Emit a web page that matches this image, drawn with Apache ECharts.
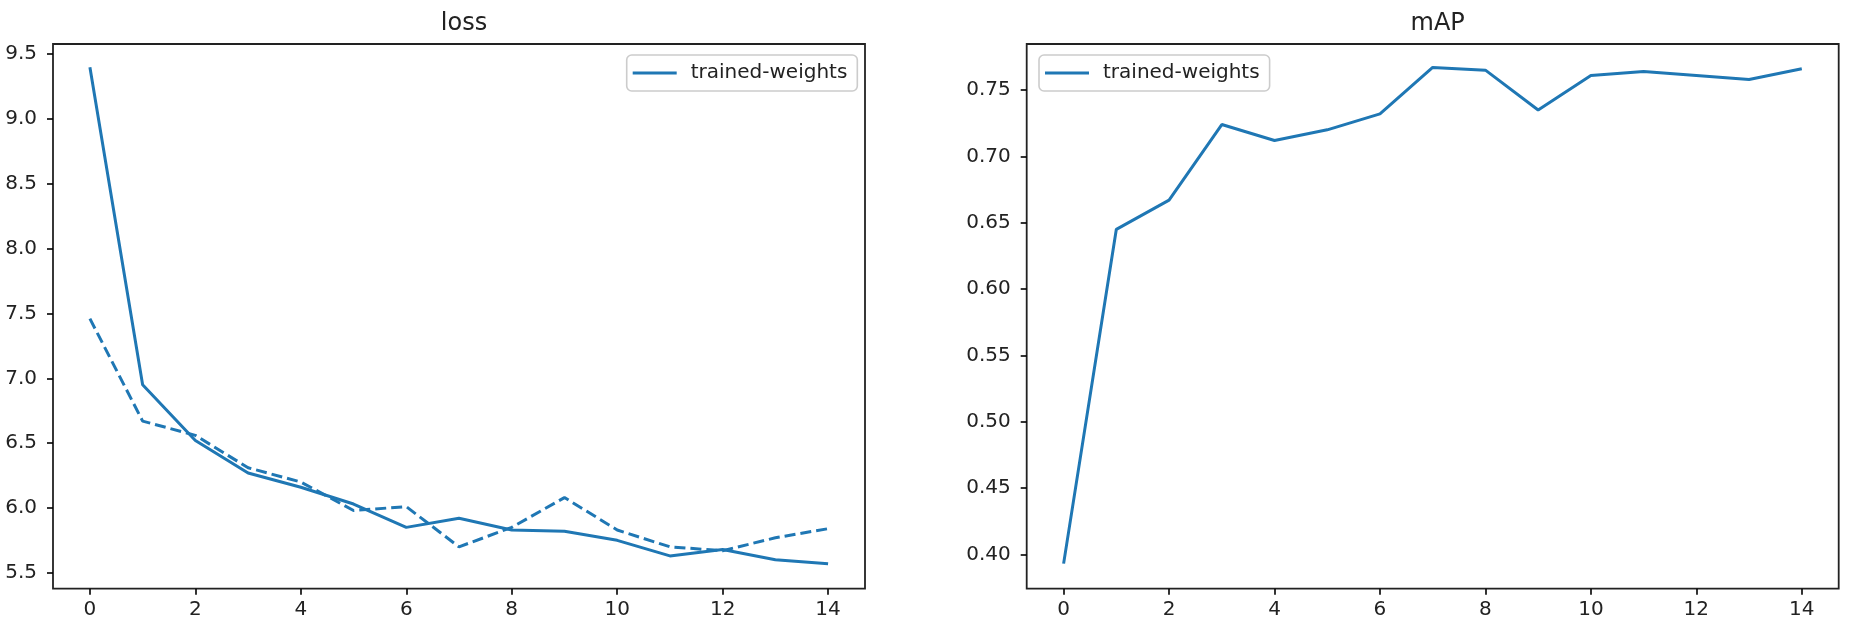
<!DOCTYPE html>
<html>
<head>
<meta charset="utf-8">
<script src="https://cdn.jsdelivr.net/npm/echarts@6/dist/echarts.min.js"></script>
<style>
html,body{margin:0;padding:0;background:#fff;}
#chart{width:1856px;height:636px;}
</style>
</head>
<body>
<div id="chart"></div>
<script>
const epochs = [0,1,2,3,4,5,6,7,8,9,10,11,12,13,14];
const lossTrain = [9.40,6.95,6.52,6.27,6.16,6.03,5.85,5.92,5.83,5.82,5.75,5.63,5.68,5.60,5.57];
const lossVal   = [7.46,6.67,6.56,6.31,6.20,5.98,6.01,5.70,5.85,6.08,5.83,5.70,5.67,5.77,5.84];
const mapTrain  = [0.393,0.645,0.667,0.724,0.712,0.720,0.732,0.767,0.765,0.735,0.761,0.764,0.761,0.758,0.766];
const xTicks    = [0,2,4,6,8,10,12,14];
const lossTicks = [5.5,6.0,6.5,7.0,7.5,8.0,8.5,9.0,9.5];
const mapTicks  = [0.40,0.45,0.50,0.55,0.60,0.65,0.70,0.75];
const seriesName = 'trained-weights';

const C = '#1f77b4';
const FONT = 'DejaVu Sans';
const pair = (ys) => epochs.map((x, i) => [x, ys[i]]);

const chart = echarts.init(document.getElementById('chart'), null, {renderer: 'canvas'});

function xAxisDef(gi) {
  return {
    type: 'value', gridIndex: gi, min: -0.7, max: 14.7,
    axisLine: {show: false, onZero: false},
    splitLine: {show: false},
    axisTick: {show: true, length: 6, customValues: xTicks, lineStyle: {color: '#000', width: 1.6}},
    axisLabel: {customValues: xTicks, margin: 11, color: '#222', fontFamily: FONT, fontSize: 20,
      formatter: v => String(v)}
  };
}
function yAxisDef(gi, min, max, ticks, dec) {
  return {
    type: 'value', gridIndex: gi, min: min, max: max,
    axisLine: {show: false, onZero: false},
    splitLine: {show: false},
    axisTick: {show: true, length: 6, customValues: ticks, lineStyle: {color: '#000', width: 1.6}},
    axisLabel: {customValues: ticks, margin: 16, color: '#222', fontFamily: FONT, fontSize: 20,
      formatter: v => Number(v).toFixed(dec)}
  };
}
function legendDef(left, top) {
  return {
    data: [{name: seriesName, icon: 'rect'}], left: left, top: top, orient: 'horizontal',
    padding: [8, 10, 8, 6], itemWidth: 44, itemHeight: 3,
    itemStyle: {color: C, borderWidth: 0},
    backgroundColor: 'rgba(255,255,255,0.8)', borderColor: '#cccccc', borderWidth: 1.6, borderRadius: 5,
    textStyle: {fontFamily: FONT, fontSize: 20, color: '#222', padding: [0, 0, 0, 9], lineHeight: 20},
    selectedMode: false
  };
}

const option = {
  animation: false,
  backgroundColor: '#fff',
  title: [
    {text: 'loss', left: 459, top: 7, textAlign: 'center',
     textStyle: {fontFamily: FONT, fontSize: 24, fontWeight: 'normal', color: '#222'}},
    {text: 'mAP', left: 1432.7, top: 7, textAlign: 'center',
     textStyle: {fontFamily: FONT, fontSize: 24, fontWeight: 'normal', color: '#222'}}
  ],
  grid: [
    {left: 53, top: 44, width: 812, height: 544.7, show: true, borderColor: '#222', borderWidth: 1.8, containLabel: false},
    {left: 1026.7, top: 44, width: 812, height: 544.7, show: true, borderColor: '#222', borderWidth: 1.8, containLabel: false}
  ],
  legend: [legendDef(626.7, 55), legendDef(1039, 55)],
  xAxis: [xAxisDef(0), xAxisDef(1)],
  yAxis: [
    yAxisDef(0, 5.377, 9.579, lossTicks, 1),
    yAxisDef(1, 0.3741, 0.7847, mapTicks, 2)
  ],
  series: [
    {name: seriesName, type: 'line', xAxisIndex: 0, yAxisIndex: 0, data: pair(lossTrain),
     symbol: 'none', lineStyle: {color: C, width: 3}, itemStyle: {color: C}},
    {name: 'val-loss', type: 'line', xAxisIndex: 0, yAxisIndex: 0, data: pair(lossVal),
     symbol: 'none', lineStyle: {color: C, width: 3, type: [11, 5]}, itemStyle: {color: C}},
    {name: seriesName, type: 'line', xAxisIndex: 1, yAxisIndex: 1, data: pair(mapTrain),
     symbol: 'none', lineStyle: {color: C, width: 3}, itemStyle: {color: C}}
  ]
};
chart.setOption(option);
</script>
</body>
</html>
